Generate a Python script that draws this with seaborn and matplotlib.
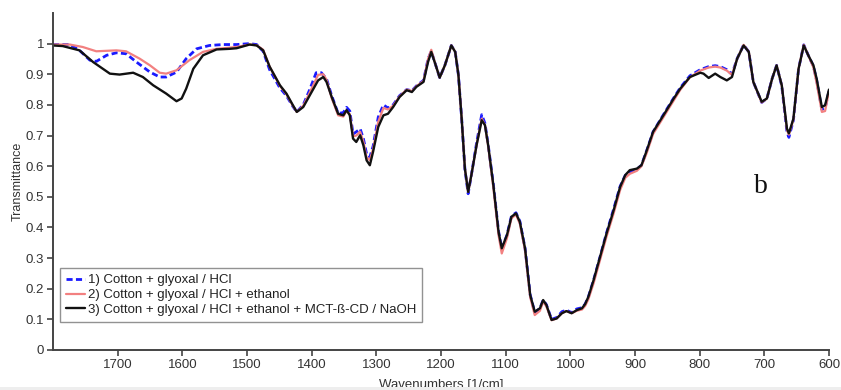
import matplotlib
matplotlib.use("Agg")
import matplotlib.pyplot as plt
import seaborn as sns
import pandas as pd
from matplotlib.patches import Rectangle

# ---------------- data ----------------
wn_black = [1800, 1785, 1759, 1738, 1712, 1697, 1676, 1661, 1645, 1625, 1609, 1601, 1594, 1583, 1568,
            1547, 1527, 1516, 1496, 1485, 1475, 1465, 1449, 1439, 1429, 1423, 1413, 1403, 1390, 1382,
            1377, 1369, 1359, 1351, 1346, 1341, 1336, 1331, 1325, 1320, 1315, 1310, 1305, 1297, 1289,
            1282, 1274, 1264, 1253, 1245, 1238, 1227, 1220, 1215, 1209, 1202, 1194, 1184, 1178, 1173,
            1168, 1163, 1158, 1153, 1145, 1137, 1132, 1127, 1119, 1111, 1106, 1098, 1091, 1084, 1078,
            1070, 1062, 1055, 1047, 1042, 1037, 1029, 1021, 1013, 1006, 998, 990, 982, 977, 972,
            964, 954, 944, 933, 923, 915, 908, 897, 890, 882, 872, 856, 840, 830, 815,
            799, 794, 786, 776, 768, 758, 750, 742, 732, 724, 717, 704, 696, 688, 681,
            673, 665, 662, 655, 647, 639, 632, 624, 619, 611, 606, 600]
t_black = [0.994, 0.992, 0.978, 0.940, 0.902, 0.899, 0.905, 0.891, 0.864, 0.837, 0.812, 0.821, 0.853, 0.918, 0.962,
           0.981, 0.983, 0.985, 0.997, 0.994, 0.978, 0.925, 0.864, 0.837, 0.799, 0.777, 0.793, 0.831, 0.880, 0.891,
           0.875, 0.826, 0.771, 0.766, 0.783, 0.766, 0.690, 0.679, 0.701, 0.668, 0.619, 0.603, 0.647, 0.728, 0.766,
           0.771, 0.793, 0.826, 0.848, 0.842, 0.859, 0.875, 0.940, 0.973, 0.935, 0.889, 0.929, 0.994, 0.973, 0.897,
           0.755, 0.592, 0.516, 0.571, 0.668, 0.750, 0.734, 0.668, 0.538, 0.386, 0.332, 0.375, 0.435, 0.446, 0.418,
           0.332, 0.179, 0.125, 0.136, 0.163, 0.147, 0.098, 0.103, 0.120, 0.127, 0.120, 0.130, 0.136, 0.150, 0.174,
           0.228, 0.304, 0.380, 0.456, 0.532, 0.571, 0.587, 0.592, 0.603, 0.650, 0.712, 0.766, 0.821, 0.853, 0.891,
           0.905, 0.902, 0.888, 0.902, 0.891, 0.880, 0.891, 0.951, 0.994, 0.973, 0.875, 0.810, 0.821, 0.885, 0.929,
           0.864, 0.723, 0.707, 0.755, 0.918, 0.994, 0.962, 0.929, 0.885, 0.793, 0.799, 0.850]

wn_blue = [1800, 1774, 1759, 1743, 1733, 1717, 1702, 1687, 1671, 1650, 1635, 1625, 1609, 1594, 1578,
           1558, 1537, 1516, 1496, 1485, 1475, 1465, 1449, 1439, 1429, 1423, 1413, 1403, 1393, 1385,
           1377, 1369, 1359, 1351, 1346, 1341, 1336, 1331, 1325, 1320, 1315, 1310, 1305, 1297, 1289,
           1282, 1274, 1264, 1253, 1245, 1238, 1227, 1220, 1215, 1209, 1202, 1194, 1184, 1178, 1173,
           1168, 1163, 1158, 1153, 1145, 1137, 1132, 1127, 1119, 1111, 1106, 1098, 1091, 1084, 1078,
           1070, 1062, 1055, 1047, 1042, 1037, 1029, 1021, 1013, 1006, 998, 990, 982, 977, 972,
           964, 954, 944, 933, 923, 915, 908, 897, 890, 882, 872, 856, 840, 830, 815,
           799, 786, 776, 768, 758, 750, 742, 732, 724, 717, 704, 696, 688, 681,
           673, 665, 662, 655, 647, 639, 632, 624, 619, 611, 606, 600]
t_blue = [0.997, 0.997, 0.978, 0.946, 0.942, 0.962, 0.970, 0.967, 0.940, 0.907, 0.891, 0.891, 0.907, 0.951, 0.983,
          0.994, 0.997, 0.997, 1.000, 0.997, 0.975, 0.915, 0.855, 0.830, 0.795, 0.777, 0.800, 0.850, 0.905, 0.905,
          0.885, 0.830, 0.772, 0.775, 0.792, 0.780, 0.705, 0.712, 0.722, 0.690, 0.640, 0.630, 0.665, 0.760, 0.800,
          0.790, 0.800, 0.830, 0.850, 0.846, 0.862, 0.880, 0.950, 0.975, 0.935, 0.889, 0.929, 0.994, 0.973, 0.897,
          0.755, 0.590, 0.510, 0.571, 0.675, 0.768, 0.740, 0.670, 0.540, 0.388, 0.330, 0.375, 0.437, 0.448, 0.420,
          0.332, 0.180, 0.122, 0.136, 0.163, 0.148, 0.100, 0.106, 0.125, 0.130, 0.122, 0.134, 0.138, 0.150, 0.174,
          0.228, 0.304, 0.382, 0.460, 0.534, 0.570, 0.580, 0.590, 0.603, 0.650, 0.712, 0.768, 0.823, 0.856, 0.895,
          0.915, 0.925, 0.928, 0.925, 0.915, 0.900, 0.951, 0.996, 0.973, 0.875, 0.808, 0.821, 0.885, 0.929,
          0.862, 0.712, 0.694, 0.750, 0.918, 0.996, 0.962, 0.926, 0.880, 0.785, 0.790, 0.845]

wn_red = [1800, 1774, 1754, 1733, 1702, 1687, 1666, 1650, 1635, 1625, 1609, 1589, 1568, 1547, 1516,
          1496, 1485, 1475, 1465, 1449, 1439, 1429, 1423, 1413, 1403, 1390, 1382,
          1377, 1369, 1359, 1351, 1346, 1341, 1336, 1331, 1325, 1320, 1315, 1310, 1305, 1297, 1289,
          1282, 1274, 1264, 1253, 1245, 1238, 1227, 1220, 1215, 1209, 1202, 1194, 1184, 1178, 1173,
          1168, 1163, 1158, 1153, 1145, 1137, 1132, 1127, 1119, 1111, 1106, 1098, 1091, 1084, 1078,
          1070, 1062, 1055, 1047, 1042, 1037, 1029, 1021, 1013, 1006, 998, 990, 982, 977, 972,
          964, 954, 944, 933, 923, 915, 908, 897, 890, 882, 872, 856, 840, 830, 815,
          799, 786, 776, 768, 758, 750, 742, 732, 724, 717, 704, 696, 688, 681,
          673, 665, 662, 655, 647, 639, 632, 624, 619, 611, 606, 600]
t_red = [0.997, 0.997, 0.989, 0.975, 0.978, 0.975, 0.951, 0.929, 0.905, 0.902, 0.913, 0.946, 0.973, 0.983, 0.989,
         0.997, 0.995, 0.980, 0.925, 0.862, 0.835, 0.797, 0.777, 0.797, 0.840, 0.898, 0.900,
         0.882, 0.822, 0.766, 0.762, 0.780, 0.770, 0.697, 0.700, 0.712, 0.680, 0.628, 0.620, 0.655, 0.745, 0.790,
         0.785, 0.797, 0.828, 0.850, 0.845, 0.861, 0.878, 0.950, 0.980, 0.935, 0.889, 0.929, 0.994, 0.973, 0.897,
         0.755, 0.592, 0.516, 0.571, 0.668, 0.755, 0.734, 0.665, 0.530, 0.375, 0.315, 0.365, 0.430, 0.442, 0.412,
         0.325, 0.172, 0.114, 0.128, 0.158, 0.142, 0.097, 0.103, 0.120, 0.127, 0.120, 0.128, 0.132, 0.144, 0.166,
         0.218, 0.294, 0.370, 0.446, 0.522, 0.562, 0.575, 0.585, 0.600, 0.642, 0.705, 0.760, 0.815, 0.849, 0.890,
         0.912, 0.922, 0.925, 0.922, 0.912, 0.898, 0.950, 0.996, 0.973, 0.875, 0.808, 0.821, 0.885, 0.929,
         0.864, 0.718, 0.703, 0.752, 0.918, 0.996, 0.962, 0.922, 0.870, 0.777, 0.780, 0.845]

labels = ["1) Cotton + glyoxal / HCl",
          "2) Cotton + glyoxal / HCl + ethanol",
          "3) Cotton + glyoxal / HCl + ethanol + MCT-ß-CD / NaOH"]
x_ticks = [1700, 1600, 1500, 1400, 1300, 1200, 1100, 1000, 900, 800, 700, 600]
y_ticks = [0, 0.1, 0.2, 0.3, 0.4, 0.5, 0.6, 0.7, 0.8, 0.9, 1]
y_tick_labels = ["0", "0.1", "0.2", "0.3", "0.4", "0.5", "0.6", "0.7", "0.8", "0.9", "1"]

# ---------------- style ----------------
sns.set_style("white")
plt.rcParams["font.family"] = ["Liberation Sans", "DejaVu Sans"]

fig = plt.figure(figsize=(8.41, 3.90), dpi=100)
ax = fig.add_axes([0.063, 0.1026, 0.9227, 0.8641])

df_blue = pd.DataFrame({"wn": wn_blue, "T": t_blue})
df_red = pd.DataFrame({"wn": wn_red, "T": t_red})
df_black = pd.DataFrame({"wn": wn_black, "T": t_black})

sns.lineplot(data=df_blue, x="wn", y="T", sort=False, estimator=None, ax=ax,
             color="#1a1aff", linewidth=2.0, linestyle=(0, (2.2, 1.2)), label=labels[0])
sns.lineplot(data=df_red, x="wn", y="T", sort=False, estimator=None, ax=ax,
             color="#f28080", linewidth=1.6, label=labels[1])
sns.lineplot(data=df_black, x="wn", y="T", sort=False, estimator=None, ax=ax,
             color="#111111", linewidth=1.7, label=labels[2])

ax.set_xlim(1800, 600)
ax.set_ylim(0, 1.1)
ax.set_xticks(x_ticks)
ax.set_yticks(y_ticks)
ax.set_yticklabels(y_tick_labels)

for s in ["top", "right"]:
    ax.spines[s].set_visible(False)
for s in ["left", "bottom"]:
    ax.spines[s].set_color("#444444")
    ax.spines[s].set_linewidth(1.4)

ax.tick_params(axis="both", which="major", direction="out", length=4, width=1.2,
               color="#444444", labelcolor="#333333", labelsize=9.5, pad=2.5,
               bottom=True, left=True)

ax.set_xlabel("Wavenumbers [1/cm]", fontsize=9.5, color="#333333", labelpad=6)
ax.set_ylabel("Transmittance", fontsize=9, color="#333333", labelpad=1)

ax.text(706, 0.512, "b", fontsize=20, family=["Liberation Serif", "DejaVu Serif"],
        ha="center", va="baseline", color="#111111")

leg = ax.legend(loc="lower left", bbox_to_anchor=(0.009, 0.083), borderaxespad=0,
                fontsize=9.5, frameon=True, fancybox=False, handlelength=1.45,
                handletextpad=0.2, labelspacing=0.2, borderpad=0.45)
leg.get_frame().set_edgecolor("#777777")
leg.get_frame().set_linewidth(1.0)
for t in leg.get_texts():
    t.set_color("#222222")

fig.patches.append(Rectangle((0, 0), 1, 0.008, transform=fig.transFigure,
                             facecolor="#eeeeee", edgecolor="none"))

fig.savefig("out.png", dpi=100)
